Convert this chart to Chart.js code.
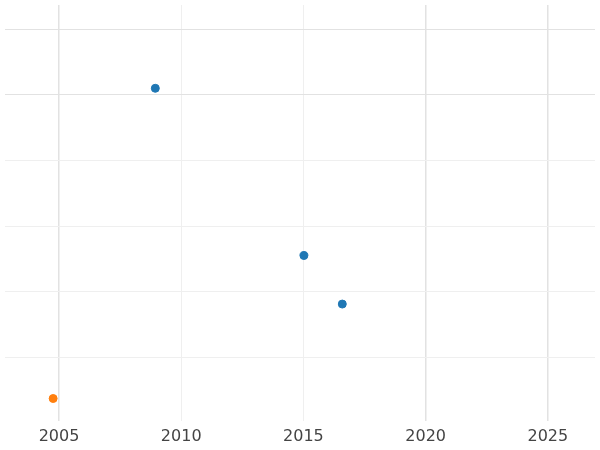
<!DOCTYPE html>
<html><head><script src="https://cdn.jsdelivr.net/npm/chart.js@4"></script>
<style>body{margin:0;background:#fff;overflow:hidden}#w{width:600px;height:450px}</style></head>
<body><div id="w"><canvas id="c"></canvas></div>
<script>
const blueX=[2008.94,2015.02,2016.59];
const blueY=[4.10,1.55,0.81];
const orangeX=[2004.76];
const orangeY=[-0.63];
const xTicks=[2005,2010,2015,2020,2025];
const strongX=[2005,2020,2025];
new Chart(document.getElementById('c'),{
type:'scatter',
data:{datasets:[
{data:blueX.map((x,i)=>({x,y:blueY[i]})),backgroundColor:'#1f77b4',borderColor:'#1f77b4',pointRadius:4},
{data:orangeX.map((x,i)=>({x,y:orangeY[i]})),backgroundColor:'#ff7f0e',borderColor:'#ff7f0e',pointRadius:4}]},
options:{responsive:true,maintainAspectRatio:false,animation:false,
layout:{padding:{left:-5,right:-5,top:-5,bottom:-2}},
plugins:{legend:{display:false},tooltip:{enabled:false}},
scales:{
x:{type:'linear',min:2002.79,max:2026.93,border:{display:false},
afterBuildTicks:a=>{a.ticks=xTicks.map(v=>({value:v}));},
grid:{color:c=>strongX.includes(c.tick&&c.tick.value)?'#e2e2e2':'#efefef',lineWidth:c=>strongX.includes(c.tick&&c.tick.value)?1.5:1,drawTicks:false},
ticks:{color:'#444',font:{family:'DejaVu Sans',size:16},padding:6,callback:v=>String(v)}},
y:{min:-0.97,max:5.37,border:{display:false},
afterBuildTicks:a=>{a.ticks=[0,1,2,3,4,5].map(v=>({value:v}));},
grid:{color:c=>(c.tick&&(c.tick.value===4||c.tick.value===5))?'#e2e2e2':'#efefef',drawTicks:false},
ticks:{display:false}}}}
});
</script></body></html>
